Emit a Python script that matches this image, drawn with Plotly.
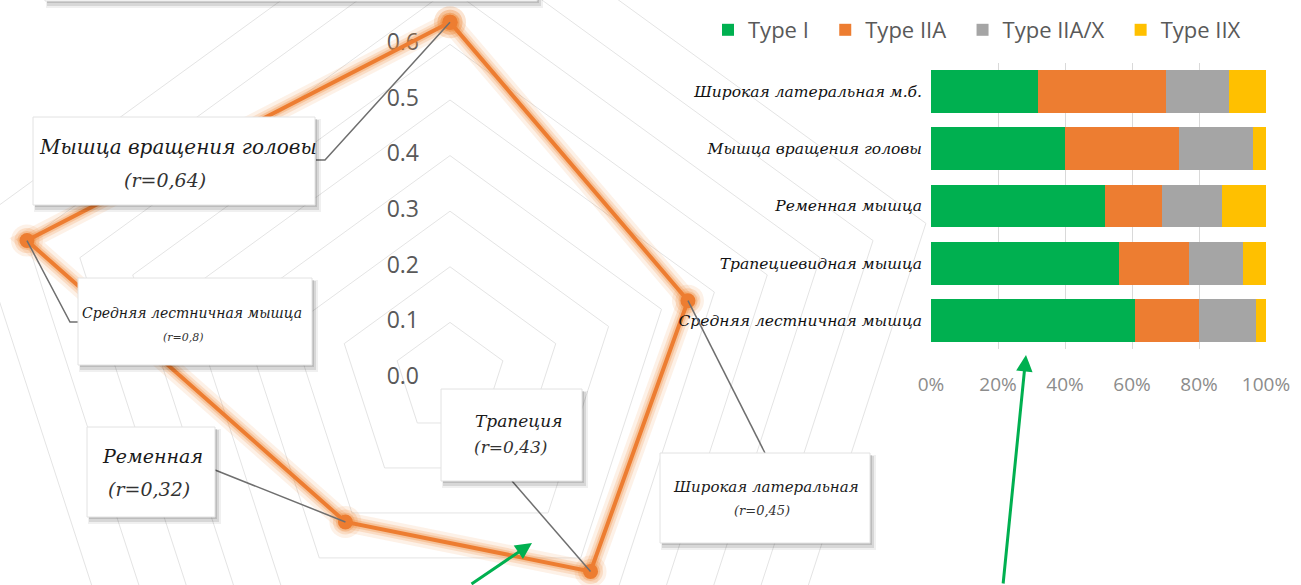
import math
import plotly.graph_objects as go

# ---- radar: correlation of each muscle (clockwise from top) ----
radar_muscles = ["Мышца вращения головы", "Широкая латеральная", "Трапеция",
                 "Ременная", "Средняя лестничная мышца"]
r_values = [0.64, 0.45, 0.43, 0.32, 0.80]
r_grid = [0.1, 0.2, 0.3, 0.4, 0.5, 0.6, 0.7, 0.8, 0.9]
r_ticks = [0.0, 0.1, 0.2, 0.3, 0.4, 0.5, 0.6]
r_tick_labels = ["0.0", "0.1", "0.2", "0.3", "0.4", "0.5", "0.6"]

# ---- stacked bars: fibre type composition, % ----
bar_muscles = ["Широкая латеральная м.б.", "Мышца вращения головы", "Ременная мышца",
               "Трапециевидная мышца", "Средняя лестничная мышца"]
fiber_types = ["Type I", "Type IIA", "Type IIA/X", "Type IIX"]
type_i = [32, 40, 52, 56, 61]
type_iia = [38, 34, 17, 21, 19]
type_iiax = [19, 22, 18, 16, 17]
type_iix = [11, 4, 13, 7, 3]
pct_ticks = [0, 20, 40, 60, 80, 100]
pct_tick_labels = ["0%", "20%", "40%", "60%", "80%", "100%"]

W, H = 1301, 585
CX, CY, S = 450, 378, 556          # radar centre (px) and px per unit r
ORANGE = "#ED7D31"
SCRIPT = "DejaVu Serif"
SANS = "Open Sans"
NBSP = "\u00a0"


def dx(px):
    return (px - CX) / S


def dy(py):
    return (CY - py) / S


def px_x(px):
    return px / W


def px_y(py):
    return 1 - py / H


n = len(radar_muscles)


def polar_xy(r, k):
    t = 2 * math.pi * k / n
    return r * math.sin(t), r * math.cos(t)


fig = go.Figure()

# radar grid rings
gx, gy = [], []
for rt in r_grid:
    for k in range(n + 1):
        x, y = polar_xy(rt, k % n)
        gx.append(x)
        gy.append(y)
    gx.append(None)
    gy.append(None)
fig.add_trace(go.Scatter(x=gx, y=gy, mode="lines", line=dict(color="#e4e4e4", width=1),
                         hoverinfo="skip", showlegend=False))

# radial tick labels along the vertical axis
fig.add_trace(go.Scatter(x=[dx(CX - 31)] * len(r_ticks), y=r_ticks, mode="text",
                         text=r_tick_labels, textposition="middle left",
                         textfont=dict(family=SANS, size=23, color="#595959"),
                         hoverinfo="skip", showlegend=False))

# data polygon with a soft glow
px_pts = [polar_xy(r, k) for k, r in enumerate(r_values)]
lx = [p[0] for p in px_pts] + [px_pts[0][0]]
ly = [p[1] for p in px_pts] + [px_pts[0][1]]
for w, m, a in [(20, 32, 0.12), (13, 25, 0.2), (8, 19, 0.3)]:
    fig.add_trace(go.Scatter(x=lx, y=ly, mode="lines+markers",
                             line=dict(color=f"rgba(240,140,60,{a})", width=w),
                             marker=dict(size=m, color=f"rgba(240,140,60,{a})"),
                             hoverinfo="skip", showlegend=False))
fig.add_trace(go.Scatter(x=lx, y=ly, mode="lines+markers",
                         line=dict(color=ORANGE, width=4),
                         marker=dict(size=15, color=ORANGE),
                         hoverinfo="skip", showlegend=False))

# stacked bars
bar_colors = ["#00B050", ORANGE, "#A5A5A5", "#FFC000"]
for name, vals, col in zip(fiber_types, [type_i, type_iia, type_iiax, type_iix], bar_colors):
    fig.add_trace(go.Bar(x=vals, y=bar_muscles, orientation="h", name=name + NBSP * 2,
                         marker=dict(color=col, line=dict(width=0)),
                         xaxis="x2", yaxis="y2", hoverinfo="skip"))

shapes = []
annotations = []


def add_box(x0, y0, x1, y1):
    shapes.append(dict(type="rect", xref="paper", yref="paper", layer="above",
                       x0=px_x(x0 + 1), x1=px_x(x1 + 6), y0=px_y(y0 + 2), y1=px_y(y1 + 7),
                       fillcolor="rgba(0,0,0,0.06)", line=dict(width=0)))
    shapes.append(dict(type="rect", xref="paper", yref="paper", layer="above",
                       x0=px_x(x0 + 2), x1=px_x(x1 + 4), y0=px_y(y0 + 3), y1=px_y(y1 + 5),
                       fillcolor="rgba(0,0,0,0.10)", line=dict(width=0)))
    shapes.append(dict(type="rect", xref="paper", yref="paper", layer="above",
                       x0=px_x(x0 + 2), x1=px_x(x1 + 2), y0=px_y(y0 + 2), y1=px_y(y1 + 2),
                       fillcolor="rgba(0,0,0,0.12)", line=dict(width=0)))
    shapes.append(dict(type="rect", xref="paper", yref="paper", layer="above",
                       x0=px_x(x0), x1=px_x(x1), y0=px_y(y0), y1=px_y(y1),
                       fillcolor="white", line=dict(color="#e2e2e2", width=1)))


def add_text(text, cx, cy, size, color="#1a1a1a"):
    annotations.append(dict(text=text, x=px_x(cx), y=px_y(cy), xref="paper", yref="paper",
                            showarrow=False, xanchor="center", yanchor="middle",
                            font=dict(family=SCRIPT, size=size, color=color, style="italic")))


def leader(points_xy):
    path = "M " + " L ".join(f"{x:.5f},{y:.5f}" for x, y in points_xy)
    shapes.append(dict(type="path", path=path, xref="x", yref="y", layer="above",
                       line=dict(color="#6f6f6f", width=1.5)))


def r_text(v):
    return "(r=" + f"{v:g}".replace(".", ",") + ")"


# title box cut by the top edge
add_box(45, -40, 537, 1)

# label boxes with leader lines to each vertex
leader([px_pts[0], (dx(325), dy(160)), (dx(316), dy(160))])
add_box(33, 117, 315, 205)
add_text(radar_muscles[0], 178, 147, 20)
add_text(r_text(r_values[0]), 165, 180, 19, "#333333")

leader([px_pts[4], (dx(70), dy(322)), (dx(79), dy(322))])
add_box(78, 278, 312, 365)
add_text(radar_muscles[4], 192, 313, 14)
add_text(r_text(r_values[4]), 183, 337, 11, "#333333")

leader([(dx(215), dy(470)), px_pts[3]])
add_box(87, 427, 215, 517)
add_text(radar_muscles[3], 152, 456, 19)
add_text(r_text(r_values[3]), 149, 489, 19, "#333333")

leader([(dx(512), dy(481)), px_pts[2]])
add_box(441, 389, 582, 481)
add_text(radar_muscles[2], 518, 421, 17)
add_text(r_text(r_values[2]), 511, 447, 17, "#333333")

leader([px_pts[1], (dx(765), dy(453))])
add_box(660, 453, 870, 543)
add_text(radar_muscles[1], 766, 487, 15)
add_text(r_text(r_values[1]), 762, 510, 13, "#333333")

# green pointer arrows
for hx, hy, ax, ay in [(532, 543, -62, 47), (1026, 355, -23, 235)]:
    annotations.append(dict(x=px_x(hx), y=px_y(hy), xref="paper", yref="paper",
                            ax=ax, ay=ay, text="", showarrow=True, arrowhead=2,
                            arrowsize=1.1, arrowwidth=3, arrowcolor="#00B050"))

fig.update_layout(
    width=W, height=H,
    margin=dict(l=0, r=0, t=0, b=0, autoexpand=False),
    paper_bgcolor="white", plot_bgcolor="white",
    barmode="stack", bargap=0.25,
    showlegend=True,
    legend=dict(orientation="h", x=px_x(708), y=px_y(30), xanchor="left", yanchor="middle",
                font=dict(family=SANS, size=22, color="#595959"), traceorder="normal",
                bgcolor="rgba(0,0,0,0)"),
    xaxis=dict(domain=[0, 1], range=[dx(0), dx(W)], visible=False, fixedrange=True),
    yaxis=dict(domain=[0, 1], range=[dy(H), dy(0)], visible=False, fixedrange=True),
    xaxis2=dict(domain=[px_x(931), px_x(1266)], anchor="y2", range=[0, 100],
                tickvals=pct_ticks, ticktext=pct_tick_labels, showgrid=True,
                gridcolor="#d9d9d9", gridwidth=1, zeroline=False, showline=False,
                ticks="", ticklabelstandoff=22,
                tickfont=dict(family=SANS, size=19, color="#8c8c8c")),
    yaxis2=dict(domain=[px_y(349), px_y(63)], anchor="x2", categoryorder="array",
                categoryarray=bar_muscles, autorange="reversed", showgrid=False,
                zeroline=False, showline=False, ticks="", ticklabelstandoff=8,
                tickfont=dict(family=SCRIPT, size=15.5, color="#111111", style="italic")),
    shapes=shapes,
    annotations=annotations,
)

fig.write_html("out.html")
